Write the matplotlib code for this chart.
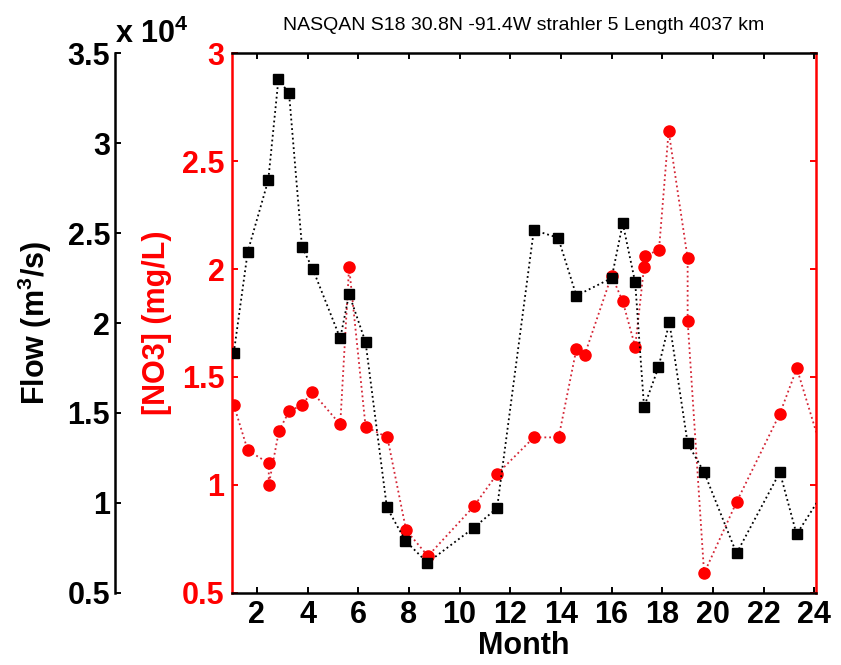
import numpy as np
import matplotlib.pyplot as plt

plt.rcParams['font.family'] = ['Liberation Sans', 'DejaVu Sans']
plt.rcParams['mathtext.default'] = 'regular'

# ── data ───────────────────────────────────────────────────────────
flow_month = [1.09, 1.64, 2.45, 2.85, 3.27, 3.78, 4.21, 5.29, 5.64, 6.29,
              7.13, 7.86, 8.73, 10.56, 11.48, 12.93, 13.89, 14.61, 16.0, 16.44,
              16.93, 17.28, 17.85, 18.28, 19.0, 19.65, 20.93, 22.64, 23.3, 24.55]
flow = [18350, 23970, 27950, 33550, 32780, 24240, 22990, 19150, 21610, 18930,
        9750, 7890, 6670, 8610, 9710, 25170, 24740, 21520, 22500, 25540,
        22260, 15330, 17540, 20040, 13310, 11700, 7190, 11700, 8250, 11000]

no3_month = [1.09, 1.64, 2.47, 2.47, 2.87, 3.27, 3.77, 4.19, 5.29, 5.64,
             6.29, 7.15, 7.89, 8.75, 10.56, 11.48, 12.93, 13.91, 14.61, 14.93,
             16.0, 16.44, 16.93, 17.28, 17.32, 17.87, 18.25, 19.0, 19.0, 19.65,
             20.93, 22.64, 23.31, 24.55]
no3 = [1.37, 1.16, 1.10, 1.00, 1.25, 1.34, 1.37, 1.43, 1.28, 2.01,
       1.27, 1.22, 0.79, 0.67, 0.90, 1.05, 1.22, 1.22, 1.63, 1.60,
       1.97, 1.85, 1.64, 2.01, 2.06, 2.09, 2.64, 2.05, 1.76, 0.59,
       0.92, 1.33, 1.54, 1.06]

month_ticks = [2, 4, 6, 8, 10, 12, 14, 16, 18, 20, 22, 24]
no3_ticks = [0.5, 1, 1.5, 2, 2.5, 3]
flow_ticks = [0.5, 1, 1.5, 2, 2.5, 3, 3.5]   # x 10^4

title = 'NASQAN S18 30.8N -91.4W strahler 5 Length 4037 km'

# ── figure ─────────────────────────────────────────────────────────
fig = plt.figure(figsize=(8.41, 6.65), dpi=100)
ax = fig.add_axes([0.2753, 0.1087, 0.6945, 0.8111])
ax2 = ax.twinx()

ax.plot(no3_month, no3, ls=':', lw=1.3, color='#d42535', marker='o', ms=8,
        mfc='red', mec='red')
ax2.plot(flow_month, np.array(flow) / 1e4, ls=':', lw=1.3, color='black',
         marker='s', ms=7.5, mfc='black', mec='black')

ax.set_xlim(1, 24.05)
ax.set_ylim(0.5, 3)
ax2.set_ylim(0.5, 3.5)

ax.set_xticks(month_ticks)
ax.set_yticks(no3_ticks)
ax.set_yticklabels([f'{v:g}' for v in no3_ticks])
ax2.set_yticks(flow_ticks)
ax2.set_yticklabels([f'{v:g}' for v in flow_ticks])

# spines
for s in ['top', 'bottom']:
    ax.spines[s].set_color('black')
    ax.spines[s].set_linewidth(1.8)
for s in ['left', 'right']:
    ax.spines[s].set_color('red')
    ax.spines[s].set_linewidth(1.8)
for s in ['top', 'bottom', 'right']:
    ax2.spines[s].set_visible(False)
ax2.spines['left'].set_visible(True)
ax2.spines['left'].set_position(('outward', 83.9))
ax2.spines['left'].set_linewidth(1.8)
ax2.yaxis.tick_left()
ax2.yaxis.set_label_position('left')

ax.tick_params(axis='x', direction='in', top=True, bottom=True, length=4,
               width=1.4, labelsize=22, pad=5)
ax.tick_params(axis='y', direction='in', left=True, right=True, length=4,
               width=1.4, colors='red', labelsize=22, pad=5)
ax2.tick_params(axis='y', direction='in', length=4, width=1.4, labelsize=22,
                pad=3.5)
for lab in ax.get_xticklabels() + ax.get_yticklabels() + ax2.get_yticklabels():
    lab.set_fontweight('bold')

ax.set_xlabel('Month', fontsize=22, fontweight='bold', labelpad=1)
ax.set_ylabel('[NO3] (mg/L)', fontsize=22, fontweight='bold', color='red')
ax2.set_ylabel('Flow (m$^3$/s)', fontsize=22, fontweight='bold')
ax.yaxis.set_label_coords(-0.102, 0.5)
ax2.yaxis.set_label_coords(-0.304, 0.5)

ax.set_title(title, fontsize=14, pad=17)
fig.text(115 / 841, 1 - 43 / 665, 'x 10$^4$', fontsize=22, fontweight='bold',
         ha='left', va='baseline')

plt.savefig('out.png', dpi=100)
